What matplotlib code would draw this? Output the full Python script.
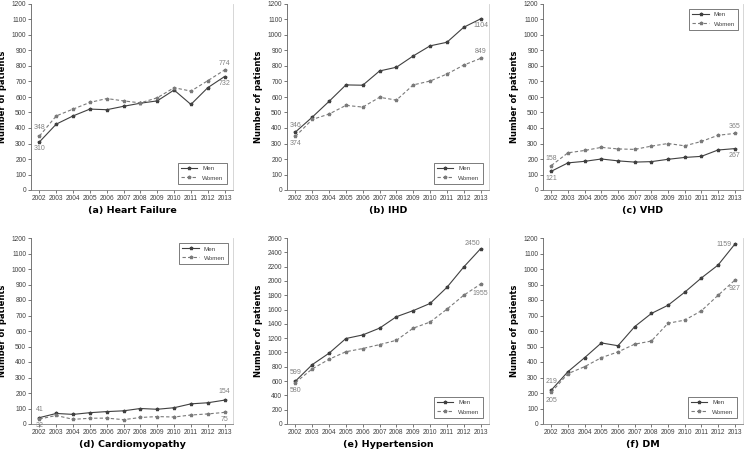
import matplotlib
matplotlib.use("Agg")
import matplotlib.pyplot as plt
import numpy as np

years = [str(y) for y in range(2002, 2014)]

hf_men = [310, 425, 478, 522, 518, 540, 560, 575, 645, 552, 660, 732]
hf_women = [348, 478, 522, 565, 590, 575, 562, 595, 660, 638, 705, 774]

ihd_men = [374, 470, 572, 678, 676, 768, 792, 865, 930, 953, 1050, 1104]
ihd_women = [346, 455, 490, 546, 535, 598, 580, 678, 703, 748, 806, 849]

vhd_men = [121, 175, 185, 200, 188, 180, 183, 198, 210, 217, 258, 267]
vhd_women = [158, 240, 255, 275, 265, 262, 283, 300, 285, 313, 353, 365]

cm_men = [41, 68, 62, 73, 80, 85, 100, 95, 105, 130, 137, 154]
cm_women = [32, 55, 30, 37, 38, 28, 42, 48, 45, 58, 65, 75]

ht_men = [599, 830, 990, 1195, 1245, 1340, 1500, 1585, 1685, 1910, 2195, 2450]
ht_women = [580, 770, 905, 1010, 1055, 1110, 1170, 1340, 1425, 1605, 1800, 1955]

dm_men = [219, 338, 428, 523, 505, 628, 713, 766, 850, 942, 1025, 1159]
dm_women = [205, 325, 370, 428, 465, 515, 535, 650, 670, 730, 830, 927]

titles = ["(a) Heart Failure", "(b) IHD", "(c) VHD",
          "(d) Cardiomyopathy", "(e) Hypertension", "(f) DM"]

# label offsets (points) : (men_first, women_first, men_last, women_last)
panels = [
    dict(men=hf_men, women=hf_women, ymax=1200, step=100, leg="lower right",
         offs=[(0, -5), (0, 6), (0, -5), (0, 5)]),
    dict(men=ihd_men, women=ihd_women, ymax=1200, step=100, leg="lower right",
         offs=[(0, 5), (0, -5), (0, -5), (0, 5)], swap_first=True),
    dict(men=vhd_men, women=vhd_women, ymax=1200, step=100, leg="upper right",
         offs=[(0, -5), (0, 5), (0, -5), (0, 5)]),
    dict(men=cm_men, women=cm_women, ymax=1200, step=100, leg="upper right",
         offs=[(0, 6), (0, -5), (0, 6), (0, -5)]),
    dict(men=ht_men, women=ht_women, ymax=2600, step=200, leg="lower right",
         offs=[(0, 6), (0, -6), (-6, 4), (0, -7)]),
    dict(men=dm_men, women=dm_women, ymax=1200, step=100, leg="lower right",
         offs=[(0, 6), (0, -6), (-8, 0), (0, -6)]),
]

W, H = 744, 451
fig = plt.figure(figsize=(W / 100, H / 100), dpi=100)
plt.rcParams['font.family'] = ['Liberation Sans', 'DejaVu Sans']

lefts = [31, 287, 543]
widths = [202, 202, 200]
tops = [4, 238]
ah = 186

x = np.arange(len(years))
for i, p in enumerate(panels):
    r, c = divmod(i, 3)
    ax = fig.add_axes([lefts[c] / W, 1 - (tops[r] + ah) / H, widths[c] / W, ah / H])
    ax.plot(x, p['men'], color='#404040', lw=0.8, marker='*', ms=2.5, label='Men')
    ax.plot(x, p['women'], color='#7a7a7a', lw=0.8, ls=(0, (3, 2)), marker='*', ms=2.5,
            label='Women')
    ax.set_xlim(-0.5, len(years) - 0.5)
    ax.set_ylim(0, p['ymax'])
    ax.set_yticks(np.arange(0, p['ymax'] + 1, p['step']))
    ax.set_xticks(x)
    ax.set_xticklabels(years)
    ax.tick_params(labelsize=4.8, colors='#404040', length=2, width=0.5, pad=1.5)
    ax.spines['top'].set_visible(False)
    ax.spines['right'].set_color('#d0d0d0')
    ax.spines['right'].set_linewidth(0.6)
    ax.spines['left'].set_color('#606060')
    ax.spines['left'].set_linewidth(0.6)
    ax.spines['bottom'].set_color('#808080')
    ax.spines['bottom'].set_linewidth(0.6)
    ax.set_ylabel('Number of patients', fontsize=6, fontweight='bold', labelpad=3,
                  family='DejaVu Sans')
    ax.set_xlabel(titles[i], fontsize=6.8, fontweight='bold', labelpad=3,
                  family='DejaVu Sans')
    leg = ax.legend(loc=p['leg'], fontsize=4.5, frameon=True, fancybox=False,
                    edgecolor='#404040', handlelength=2.6, borderpad=0.5,
                    labelspacing=0.6,
                    borderaxespad=1.0 if p['leg'] == 'lower right' else 0.8)
    leg.get_frame().set_linewidth(0.6)
    for t in leg.get_texts():
        t.set_color('#404040')
    o = p['offs']
    pts = [(0, p['men'][0]), (0, p['women'][0]), (11, p['men'][-1]), (11, p['women'][-1])]
    texts = [str(v) for _, v in pts]
    if p.get('swap_first'):
        texts[0], texts[1] = texts[1], texts[0]
    for (xx, yy), (dx, dy), s in zip(pts, o, texts):
        ax.annotate(s, (xx, yy), xytext=(dx, dy), textcoords='offset points',
                    ha='center', va='center', fontsize=5, color='#808080')

fig.savefig('out.png', dpi=100)
